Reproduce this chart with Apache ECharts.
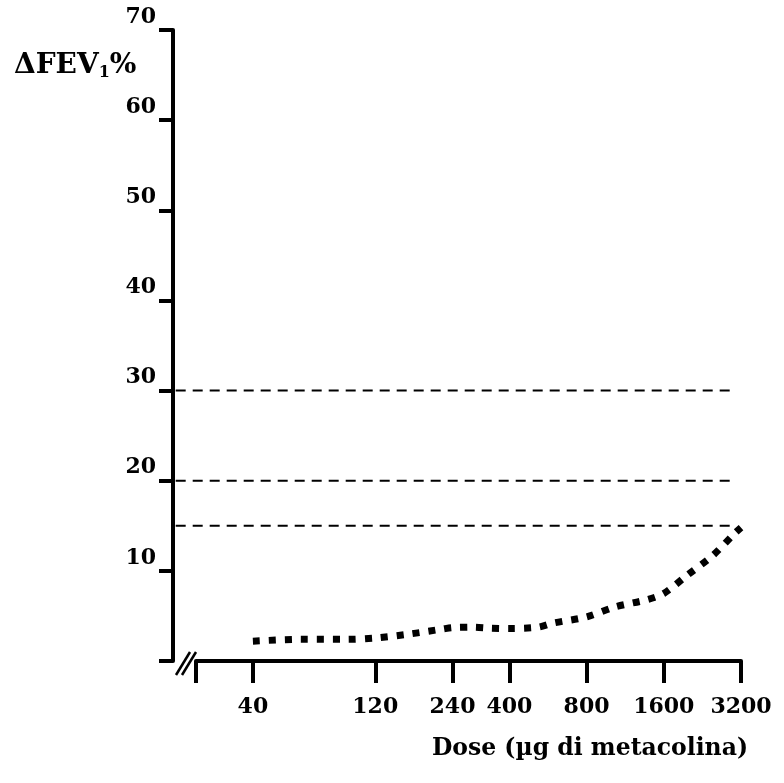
<!DOCTYPE html>
<html>
<head>
<meta charset="utf-8">
<script src="https://cdn.jsdelivr.net/npm/echarts@6/dist/echarts.min.js"></script>
<style>
  html, body { margin: 0; padding: 0; background: #fff; }
  #chart { width: 784px; height: 783px; }
</style>
</head>
<body>
<div id="chart"></div>
<script>
// 剂量（横轴刻度，对数位置）
const doseTicks = [40, 120, 240, 400, 800, 1600, 3200];
const axisStartDose = 24; // 横轴起点（断轴后的第一个刻度）

// 曲线数据：剂量 -> ΔFEV1%
const curveDose = [40, 61, 93, 120, 164, 220, 240, 288, 336, 400, 517, 592, 800, 1033, 1377, 1600, 1971, 2471, 3034, 3200];
const curveFev  = [2.2, 2.4, 2.4, 2.55, 3.0, 3.55, 3.7, 3.75, 3.65, 3.6, 3.75, 4.2, 4.9, 6.0, 6.8, 7.5, 9.5, 11.65, 14.2, 14.8];

// 参考虚线
const refLevels = [30, 20, 15];
const refFrom = 20;
const refTo = 2950;

const lg = (d) => Math.log10(d);
const font = "DejaVu Serif";

// 主网格: left 196 -> right 741；虚线网格从纵轴处(173)开始，比例尺相同
const gridLeft = 196, gridRight = 43, yAxisGap = 23;
const pxPerDecade = (784 - gridRight - gridLeft) / (lg(3200) - lg(axisStartDose));
const refAxisMin = lg(axisStartDose) - yAxisGap / pxPerDecade;

const myChart = echarts.init(document.getElementById("chart"));

const refSeries = refLevels.map((v) => ({
  type: "line",
  xAxisIndex: 1,
  yAxisIndex: 1,
  data: [[lg(refFrom), v], [lg(refTo), v]],
  symbol: "none",
  silent: true,
  lineStyle: { color: "#000", width: 2, type: [10, 7] },
}));

const hiddenAxis = {
  axisLine: { show: false },
  axisTick: { show: false },
  axisLabel: { show: false },
  splitLine: { show: false },
};

myChart.setOption({
  animation: false,
  title: [
    {
      text: "{a|ΔFEV}{s|1}{a|%}",
      left: 9,
      top: 45,
      textStyle: {
        rich: {
          a: { fontFamily: font, fontWeight: "bold", fontSize: 28, color: "#000" },
          s: { fontFamily: font, fontWeight: "bold", fontSize: 16, color: "#000", padding: [15, 0, 0, 0] },
        },
      },
    },
    {
      text: "Dose (µg di metacolina)",
      right: 31,
      top: 732,
      textStyle: { fontFamily: font, fontWeight: "bold", fontSize: 23.5, color: "#000" },
    },
  ],
  grid: [
    { left: gridLeft, right: gridRight, top: 30, bottom: 122, outerBoundsMode: "none" },
    { left: gridLeft - yAxisGap, right: gridRight, top: 30, bottom: 122, outerBoundsMode: "none" },
  ],
  xAxis: [
    {
      type: "value",
      gridIndex: 0,
      min: lg(axisStartDose),
      max: lg(3200),
      axisLine: { show: true, lineStyle: { color: "#000", width: 4 } },
      axisTick: {
        show: true,
        length: 22,
        lineStyle: { color: "#000", width: 4 },
        customValues: [lg(axisStartDose)].concat(doseTicks.map(lg)),
      },
      axisLabel: {
        customValues: doseTicks.map(lg),
        formatter: (v) => String(Math.round(Math.pow(10, v))),
        margin: 35,
        fontFamily: font,
        fontWeight: "bold",
        fontSize: 22,
        color: "#000",
      },
      splitLine: { show: false },
    },
    Object.assign({ type: "value", gridIndex: 1, min: refAxisMin, max: lg(3200) }, hiddenAxis),
  ],
  yAxis: [
    {
      type: "value",
      gridIndex: 0,
      min: 0,
      max: 70,
      interval: 10,
      offset: yAxisGap,
      axisLine: { show: true, lineStyle: { color: "#000", width: 4 } },
      axisTick: { show: true, length: 14, lineStyle: { color: "#000", width: 4 } },
      axisLabel: {
        formatter: (v) => (v === 0 ? "" : String(v)),
        margin: 17,
        verticalAlign: "bottom",
        padding: [0, 0, 2, 0],
        fontFamily: font,
        fontWeight: "bold",
        fontSize: 22,
        color: "#000",
      },
      splitLine: { show: false },
    },
    Object.assign({ type: "value", gridIndex: 1, min: 0, max: 70 }, hiddenAxis),
  ],
  // 断轴标记 //
  graphic: [
    { type: "line", shape: { x1: 176, y1: 675, x2: 190, y2: 652 }, style: { stroke: "#000", lineWidth: 2.5 } },
    { type: "line", shape: { x1: 182, y1: 675, x2: 196, y2: 652 }, style: { stroke: "#000", lineWidth: 2.5 } },
  ],
  series: [
    ...refSeries,
    {
      type: "line",
      data: curveDose.map((d, i) => [lg(d), curveFev[i]]),
      smooth: 0.3,
      symbol: "none",
      clip: false,
      lineStyle: { color: "#000", width: 7, type: [7, 9] },
    },
  ],
});
</script>
</body>
</html>
